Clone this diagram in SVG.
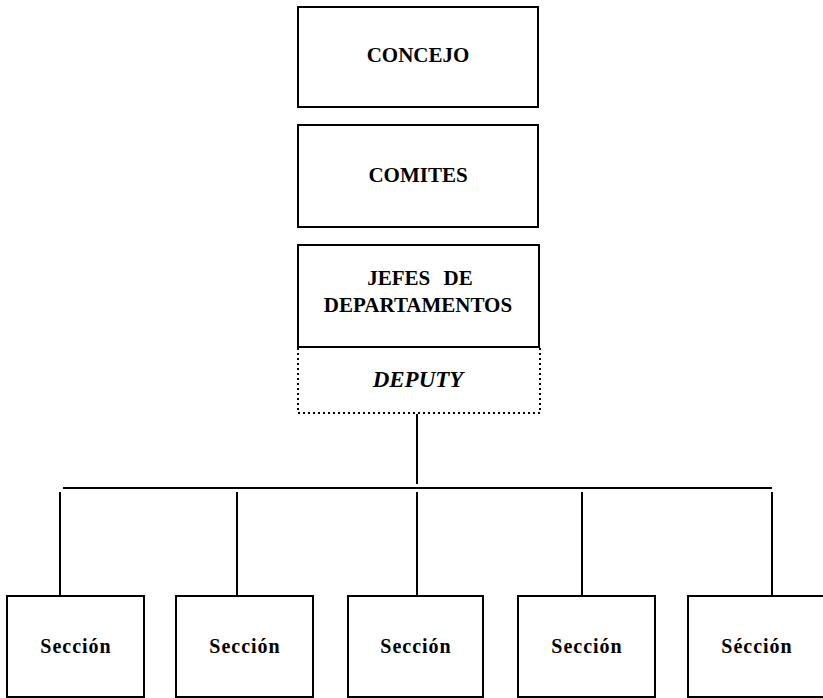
<svg xmlns="http://www.w3.org/2000/svg" width="823" height="698" viewBox="0 0 823 698">
<style>
.box{fill:none;stroke:#000;stroke-width:2}
.dot{fill:none;stroke:#000;stroke-width:2;stroke-dasharray:2 3}
.ln{fill:none;stroke:#000;stroke-width:2}
.t{font-family:"Liberation Serif","Times New Roman",serif;font-weight:bold;font-size:21px;text-anchor:middle;fill:#000}
.ti{font-style:italic;font-size:23px}
.s{font-size:20px;letter-spacing:1px}
</style>
<rect width="823" height="698" fill="#fff"/>
<g id="concejo"><rect class="box" x="298" y="7" width="240" height="100"/><text class="t" x="418" y="62">CONCEJO</text></g>
<g id="comites"><rect class="box" x="298" y="125" width="240" height="102"/><text class="t" x="418" y="182">COMITES</text></g>
<g id="jefes"><rect class="box" x="298" y="245" width="241" height="102"/><text class="t" x="420" y="285" word-spacing="8">JEFES DE</text><text class="t" x="418" y="312">DEPARTAMENTOS</text></g>
<g id="deputy"><path class="dot" d="M298 348 V413 H540 V348"/><text class="t ti" x="418" y="387">DEPUTY</text></g>
<g id="connectors">
<path class="ln" d="M417 414 V484"/>
<path class="ln" d="M63 488 H772"/>
<path class="ln" d="M60 492 V596 M237 492 V596 M417 492 V596 M582 492 V596 M772 492 V596"/>
</g>
<g id="s1"><rect class="box" x="7" y="596" width="137" height="101"/><text class="t s" x="76" y="653">Sección</text></g>
<g id="s2"><rect class="box" x="176" y="596" width="137" height="101"/><text class="t s" x="245" y="653">Sección</text></g>
<g id="s3"><rect class="box" x="348" y="596" width="135" height="101"/><text class="t s" x="416" y="653">Sección</text></g>
<g id="s4"><rect class="box" x="518" y="596" width="137" height="101"/><text class="t s" x="587" y="653">Sección</text></g>
<g id="s5"><rect class="box" x="688" y="596" width="136" height="101"/><text class="t s" x="757" y="653">Sécción</text></g>
</svg>
